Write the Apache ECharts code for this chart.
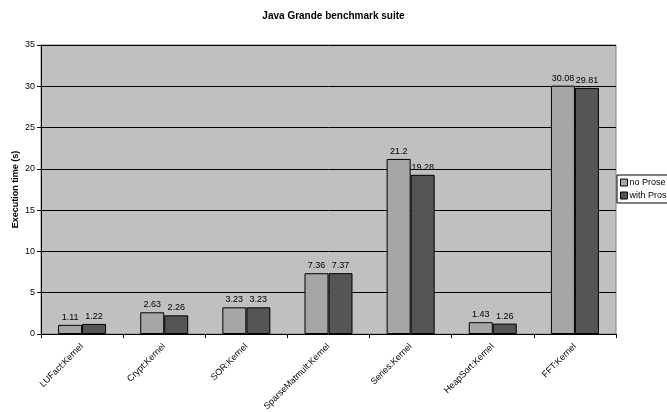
<!DOCTYPE html>
<html><head><meta charset="utf-8">
<script src="https://cdn.jsdelivr.net/npm/echarts@6/dist/echarts.min.js"></script>
<style>html,body{margin:0;padding:0;background:#fff}#c{width:667px;height:412px}</style>
</head><body><div id="c"></div>
<script>
var categories = ["LUFact:Kernel","Crypt:Kernel","SOR:Kernel","SparseMatmult:Kernel","Series:Kernel","HeapSort:Kernel","FFT:Kernel"];
var noProse = [1.11, 2.63, 3.23, 7.36, 21.2, 1.43, 30.08];
var withProse = [1.22, 2.26, 3.23, 7.37, 19.28, 1.26, 29.81];
var seriesNames = ["no Prose", "with Prose"];

var chart = echarts.init(document.getElementById('c'), null, {renderer:'canvas'});
var font = 'Arial, "Liberation Sans", sans-serif';
function mk(name, data, color){
  return {name:name, type:'bar', data:data, barWidth:24, barGap:'0%',
    itemStyle:{color:color, borderColor:'#000', borderWidth:1},
    label:{show:true, position:'top', distance:3, fontSize:9, fontFamily:font, color:'#000'}};
}
chart.setOption({
  animation:false,
  title:{text:'Java Grande benchmark suite', left:'center', top:6,
    textStyle:{fontSize:10, fontWeight:'bold', fontFamily:font, color:'#000'}},
  grid:{left:41, right:51, top:45, bottom:78, show:true, outerBoundsMode:'none', containLabel:false,
    backgroundColor:'#c0c0c0', borderColor:'#808080', borderWidth:1},
  legend:{orient:'vertical', left:617, top:175, itemWidth:7, itemHeight:7, itemGap:4,
    backgroundColor:'#fff', borderColor:'#000', borderWidth:1, padding:[3,3,3,3],
    textStyle:{fontSize:9, fontFamily:font, color:'#000', padding:[0,0,0,-3]},
    itemStyle:{borderColor:'#000', borderWidth:1},
    data:seriesNames.map(function(n){return {name:n, icon:'rect'};})},
  xAxis:{type:'category', data:categories,
    axisLine:{lineStyle:{color:'#000'}}, axisTick:{show:true, alignWithLabel:false, length:4, lineStyle:{color:'#000'}},
    axisLabel:{rotate:45, fontSize:9, fontFamily:font, color:'#000', margin:11, interval:0}},
  yAxis:{type:'value', min:0, max:35, interval:5,
    name:'Execution time (s)', nameLocation:'middle', nameGap:21, nameRotate:90, nameMoveOverlap:false,
    nameTextStyle:{fontSize:9, fontWeight:'bold', fontFamily:font, color:'#000'},
    axisLine:{show:true, lineStyle:{color:'#000'}}, axisTick:{show:true, length:4, lineStyle:{color:'#000'}},
    axisLabel:{fontSize:9, fontFamily:font, color:'#000', margin:6},
    splitLine:{lineStyle:{color:'#000', width:1}}},
  series:[mk(seriesNames[0], noProse, '#a6a6a6'), mk(seriesNames[1], withProse, '#555555')]
});
</script></body></html>
